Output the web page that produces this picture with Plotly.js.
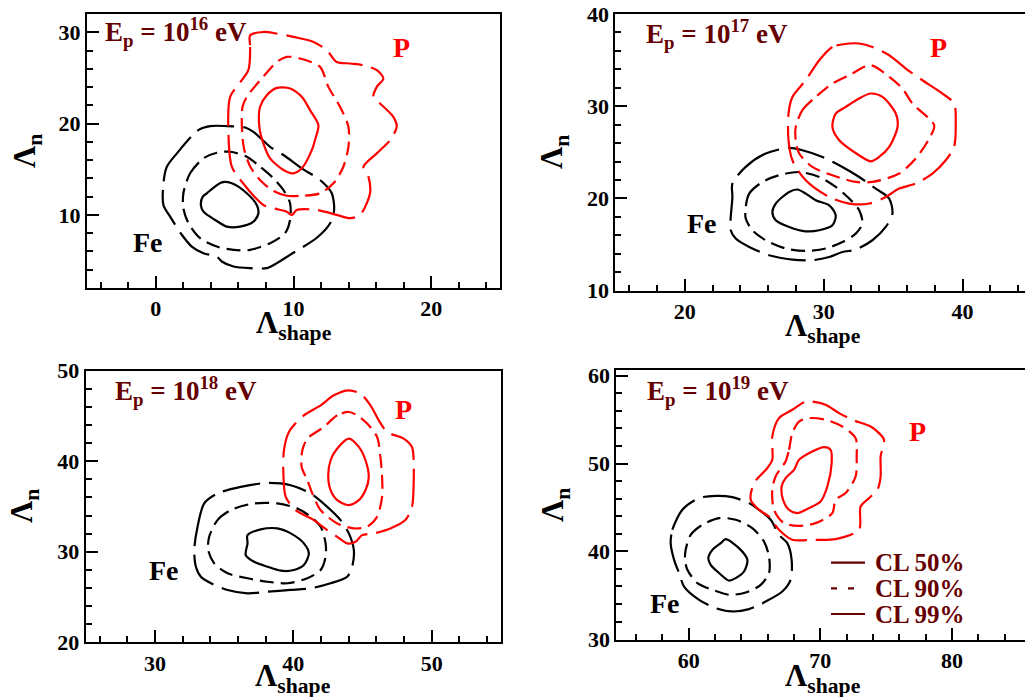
<!DOCTYPE html>
<html><head><meta charset="utf-8">
<script src="https://cdn.plot.ly/plotly-3.0.1.min.js"></script>
<style>html,body{margin:0;padding:0;overflow:hidden;background:#fff}#plot{width:1040px;height:697px}</style>
</head><body><div id="plot"></div>
<script>
// ---------------- DATA ----------------
const energies = ['16', '17', '18', '19'];
const clLevels = ['CL 50%', 'CL 90%', 'CL 99%'];

// Panel 1 : Ep = 1e16 eV
const p1_P50_x = [8.79, 9.75, 10.6, 11.2, 11.81, 11.6, 11.33, 10.6, 9.99, 9.27, 8.3, 7.81, 7.52, 7.57, 8.06, 8.79];
const p1_P50_y = [23.91, 23.85, 22.93, 21.48, 19.84, 18.4, 17.1, 15.1, 14.56, 14.92, 16.2, 17.84, 19.65, 21.84, 23.11, 23.91];
const p1_P90_x = [10.6, 9.51, 8.42, 7.57, 6.85, 6.4, 6.25, 6.3, 6.61, 7.79, 8.79, 9.51, 10.48, 11.93, 12.53, 13.38, 13.99, 13.99, 13.62, 12.9, 11.93, 10.6];
const p1_P90_y = [12.1, 12.1, 12.73, 13.83, 15.3, 17.3, 19.65, 21.84, 22.93, 25.11, 26.75, 27.3, 27.13, 26.21, 24.02, 21.84, 19.65, 17.46, 15.28, 13.46, 12.37, 12.1];
const p1_P99_x = [6.85, 6.85, 6.72, 5.4, 5.27, 5.52, 6.25, 7.81, 8.54, 9.51, 9.88, 10.24, 11.69, 13.14, 14.11, 14.84, 15.56, 15.44, 15.08, 16.05, 17.02, 17.5, 17.25, 16.29, 15.8, 16.05, 16.53, 16.05, 15.08, 14.11, 13.14, 12.42, 11.45, 9.99, 8.79, 7.81, 6.85];
const p1_P99_y = [29.67, 28.39, 25.85, 22.93, 19.29, 15.28, 13.64, 11.09, 10.73, 10.36, 10.0, 10.55, 10.55, 10.0, 9.64, 10.0, 12.37, 14.19, 15.28, 16.74, 18.2, 19.65, 20.74, 22.21, 22.93, 24.02, 24.94, 25.85, 26.39, 26.58, 26.75, 28.03, 28.94, 29.49, 29.86, 30.03, 29.67];
const p1_Fe50_x = [3.7, 4.79, 5.52, 6.61, 7.33, 7.45, 7.09, 6.12, 5.16, 4.31, 3.46, 3.27, 3.41, 3.7];
const p1_Fe50_y = [12.37, 13.57, 13.46, 12.37, 11.09, 10.18, 9.27, 8.72, 8.72, 9.45, 10.36, 11.09, 12.0, 12.37];
const p1_Fe90_x = [2.0, 2.49, 3.46, 4.43, 5.4, 6.61, 7.57, 8.54, 9.27, 9.75, 9.75, 9.39, 8.3, 6.85, 5.64, 4.43, 3.22, 2.37, 2.0, 2.0];
const p1_Fe90_y = [12.37, 14.56, 16.2, 16.81, 16.92, 16.37, 15.28, 14.01, 12.73, 11.28, 9.45, 8.0, 6.91, 6.17, 6.17, 6.54, 7.45, 9.09, 10.73, 12.37];
const p1_Fe99_x = [0.55, 0.8, 1.53, 3.09, 3.94, 5.16, 6.49, 7.09, 8.3, 9.27, 10.6, 11.93, 12.78, 12.95, 12.66, 11.69, 9.75, 8.79, 8.06, 6.85, 5.64, 4.79, 4.43, 3.46, 2.61, 1.9, 1.04, 0.55, 0.55];
const p1_Fe99_y = [13.46, 15.28, 16.74, 19.29, 19.73, 19.73, 19.58, 19.1, 17.46, 16.56, 15.1, 13.83, 12.37, 10.55, 9.09, 7.5, 5.63, 4.72, 4.17, 4.17, 4.35, 4.9, 5.44, 5.81, 6.54, 7.8, 9.81, 11.09, 13.46];

// Panel 2 : Ep = 1e17 eV
const p2_P50_x = [33.39, 34.24, 35.19, 35.32, 34.72, 33.99, 33.39, 32.55, 31.12, 30.63, 30.87, 31.59, 32.55, 33.39];
const p2_P50_y = [31.38, 31.01, 29.21, 27.75, 25.59, 24.5, 24.03, 24.69, 26.31, 27.75, 29.21, 29.93, 30.84, 31.38];
const p2_P90_x = [27.99, 28.47, 29.43, 30.63, 31.84, 33.39, 34.72, 35.67, 36.39, 37.96, 37.6, 36.63, 35.44, 33.51, 32.31, 30.63, 29.19, 28.24, 27.99, 27.99];
const p2_P90_y = [27.76, 29.57, 31.01, 32.46, 33.36, 34.45, 33.18, 31.92, 30.29, 27.94, 26.5, 24.33, 22.7, 21.79, 21.79, 22.52, 23.42, 24.87, 26.31, 27.76];
const p2_P99_x = [31.84, 30.63, 29.68, 28.71, 27.75, 27.47, 27.47, 27.75, 28.71, 30.4, 31.84, 33.28, 34.47, 35.44, 36.63, 37.83, 38.79, 39.39, 39.51, 39.39, 38.55, 37.11, 35.91, 34.72, 33.51, 32.56, 31.84];
const p2_P99_y = [36.8, 36.43, 34.99, 32.82, 31.01, 29.21, 26.31, 24.14, 21.97, 20.16, 19.45, 19.45, 20.16, 21.07, 21.62, 22.7, 24.14, 25.59, 28.12, 30.29, 31.38, 32.82, 34.09, 35.53, 36.43, 36.8, 36.8];
const p2_Fe50_x = [26.55, 27.52, 28.11, 28.71, 29.43, 30.4, 30.87, 30.63, 29.68, 28.71, 27.52, 26.55, 26.31, 26.55];
const p2_Fe50_y = [19.45, 20.71, 20.97, 20.53, 19.8, 19.26, 18.18, 17.09, 16.55, 16.44, 16.91, 17.64, 18.54, 19.45];
const p2_Fe90_x = [24.39, 24.64, 25.59, 26.8, 28.24, 29.68, 30.87, 31.84, 32.56, 32.79, 32.31, 31.35, 30.15, 28.71, 27.27, 25.83, 24.87, 24.39, 24.39];
const p2_Fe90_y = [19.08, 20.53, 21.79, 22.52, 22.87, 22.33, 21.25, 19.99, 18.72, 17.28, 16.19, 15.28, 14.57, 14.31, 14.57, 15.47, 16.55, 17.82, 19.08];
const p2_Fe99_x = [23.43, 24.39, 25.83, 27.52, 28.47, 29.91, 31.35, 32.56, 33.75, 34.72, 34.95, 34.47, 33.51, 32.31, 31.35, 30.4, 29.19, 27.75, 26.08, 24.64, 23.67, 23.31, 23.43, 23.43];
const p2_Fe99_y = [21.62, 23.42, 24.87, 25.48, 25.23, 24.5, 23.42, 22.33, 21.07, 19.99, 18.36, 16.91, 15.47, 14.46, 14.2, 13.66, 13.3, 13.37, 13.84, 14.74, 15.65, 16.55, 20.16, 21.62];

// Panel 3 : Ep = 1e18 eV
const p3_P50_x = [44.01, 44.73, 45.21, 45.45, 45.21, 44.73, 44.01, 43.17, 42.69, 42.52, 42.69, 43.17, 44.01];
const p3_P50_y = [42.5, 41.58, 40.11, 38.27, 36.8, 35.7, 35.15, 35.7, 36.8, 38.46, 40.11, 41.4, 42.5];
const p3_P90_x = [44.01, 43.17, 42.2, 41.01, 40.65, 40.6, 41.01, 41.37, 41.97, 43.17, 44.37, 45.33, 46.05, 46.41, 46.41, 46.29, 46.05, 45.33, 44.61, 44.01];
const p3_P90_y = [45.44, 45.07, 43.78, 42.5, 41.21, 39.37, 37.91, 36.44, 34.6, 33.13, 32.58, 32.76, 33.86, 36.06, 38.27, 40.47, 42.68, 44.16, 45.07, 45.44];
const p3_P99_x = [44.01, 42.93, 41.97, 40.76, 39.68, 39.32, 39.28, 39.45, 40.17, 41.48, 42.45, 43.17, 43.89, 44.49, 44.97, 45.81, 47.01, 48.09, 48.57, 48.69, 48.69, 48.57, 47.97, 46.77, 46.17, 45.57, 44.85, 44.01];
const p3_P99_y = [47.83, 47.28, 46.17, 45.07, 43.23, 41.21, 38.64, 36.06, 34.6, 33.5, 32.39, 31.65, 30.93, 31.1, 31.84, 32.03, 32.58, 33.5, 34.96, 37.54, 40.11, 41.58, 42.5, 43.23, 44.52, 46.17, 47.46, 47.83];
const p3_Fe50_x = [36.69, 37.64, 38.85, 39.81, 40.76, 41.12, 40.76, 40.04, 39.08, 38.13, 37.16, 36.56, 36.69, 36.69];
const p3_Fe50_y = [31.84, 32.47, 32.58, 32.03, 30.93, 29.82, 28.53, 27.98, 27.91, 28.35, 28.9, 29.64, 30.93, 31.84];
const p3_Fe90_x = [33.92, 34.52, 35.48, 37.16, 38.85, 40.29, 41.25, 41.97, 42.33, 42.33, 41.97, 41.01, 39.57, 38.13, 36.69, 35.25, 34.28, 33.85, 33.92];
const p3_Fe90_y = [31.65, 33.5, 34.6, 35.34, 35.34, 34.79, 33.86, 32.76, 30.93, 29.45, 27.98, 27.07, 26.52, 26.69, 27.07, 27.62, 28.72, 30.19, 31.65];
const p3_Fe99_x = [32.84, 33.08, 33.56, 34.52, 36.2, 38.13, 39.81, 41.25, 42.45, 43.41, 44.01, 44.37, 44.25, 43.89, 42.69, 41.25, 39.81, 38.13, 36.69, 35.25, 34.05, 33.32, 32.96, 32.84];
const p3_Fe99_y = [30.19, 32.76, 35.34, 36.44, 37.17, 37.61, 37.35, 36.44, 34.96, 33.5, 32.03, 30.19, 28.35, 27.24, 26.52, 25.96, 25.78, 25.59, 25.41, 25.78, 26.52, 27.24, 28.35, 30.19];

// Panel 4 : Ep = 1e19 eV
const p4_P50_x = [68.38, 69.39, 70.28, 70.78, 70.86, 70.53, 70.02, 69.14, 68.25, 67.62, 67.17, 67.06, 67.36, 68.0, 68.38];
const p4_P50_y = [50.42, 51.37, 51.87, 51.56, 50.05, 47.38, 45.67, 44.92, 44.35, 44.73, 45.87, 47.38, 48.34, 49.28, 50.42];
const p4_P90_x = [67.36, 67.62, 67.87, 68.38, 69.14, 70.4, 71.67, 72.68, 72.76, 72.68, 71.92, 71.16, 70.91, 69.64, 68.38, 67.24, 66.48, 66.35, 66.6, 67.11, 67.36];
const p4_P90_y = [50.23, 51.56, 53.46, 54.78, 55.17, 54.98, 54.21, 52.89, 50.8, 48.52, 46.63, 45.87, 44.35, 43.21, 42.9, 43.21, 44.73, 47.0, 48.52, 49.66, 50.23];
const p4_P99_x = [68.88, 67.87, 66.86, 66.35, 66.35, 65.97, 64.96, 64.71, 65.34, 66.1, 66.86, 67.87, 69.39, 71.16, 72.94, 73.06, 73.7, 74.33, 74.58, 74.58, 74.84, 74.46, 73.82, 72.43, 71.42, 70.4, 69.39, 68.88];
const p4_P99_y = [57.06, 56.12, 55.17, 53.08, 50.42, 49.48, 47.77, 45.87, 44.73, 43.96, 42.45, 41.31, 41.31, 41.39, 42.45, 45.1, 46.06, 47.0, 48.52, 50.8, 52.7, 53.46, 54.21, 54.98, 55.74, 56.69, 57.06, 57.06];
const p4_Fe50_x = [62.81, 63.82, 64.46, 64.2, 63.57, 63.06, 62.31, 61.67, 61.49, 61.8, 62.43, 62.81];
const p4_Fe50_y = [41.39, 40.36, 39.03, 37.7, 36.95, 36.67, 37.52, 38.46, 39.23, 40.17, 40.93, 41.39];
const p4_Fe90_x = [59.77, 60.15, 61.04, 62.31, 63.57, 64.83, 65.72, 66.1, 66.1, 65.47, 64.33, 63.06, 61.8, 60.66, 59.9, 59.72, 59.77];
const p4_Fe90_y = [40.17, 41.88, 43.02, 43.78, 43.59, 42.64, 41.12, 39.41, 37.52, 36.18, 35.31, 35.05, 35.62, 36.38, 37.9, 39.03, 40.17];
const p4_Fe99_x = [58.63, 58.76, 59.52, 60.79, 62.05, 63.32, 64.58, 65.34, 66.23, 66.86, 67.49, 67.82, 67.74, 67.11, 65.85, 64.58, 63.32, 62.05, 60.79, 59.65, 59.27, 58.89, 58.63];
const p4_Fe99_y = [40.93, 42.45, 44.73, 46.06, 46.32, 46.17, 45.49, 44.73, 43.59, 41.88, 40.93, 39.03, 36.75, 35.42, 34.28, 33.42, 33.15, 33.53, 34.48, 35.99, 37.52, 39.03, 40.93];

// axis ranges
const p1_xrange = [-5, 25],    p1_yrange = [2, 32];
const p2_xrange = [15, 45],    p2_yrange = [10, 40];
const p3_xrange = [25, 55],    p3_yrange = [20, 50];
const p4_xrange = [54.5, 86.08], p4_yrange = [29.9, 60.65];

// ---------------- STYLE / LAYOUT ----------------
const W = 1040, H = 697;
const FONT = 'Liberation Serif, Times New Roman, serif';
const DARK = '#660000';
const DASH = {50: 'solid', 90: '14px,7px', 99: '38px,9px'};
const traces = [];
function contour(ax, xs, ys, color, cl) {
  const s = ax > 1 ? String(ax) : '';
  traces.push({type: 'scatter', mode: 'lines', x: xs, y: ys, xaxis: 'x' + s, yaxis: 'y' + s,
    line: {color: color, width: 2.2, dash: DASH[cl], shape: 'spline', smoothing: 0.8},
    hoverinfo: 'skip', showlegend: false});
}
const RED = '#ff0000', BLK = '#000000';
contour(1, p1_Fe99_x, p1_Fe99_y, BLK, 99); contour(1, p1_Fe90_x, p1_Fe90_y, BLK, 90); contour(1, p1_Fe50_x, p1_Fe50_y, BLK, 50);
contour(1, p1_P99_x, p1_P99_y, RED, 99);   contour(1, p1_P90_x, p1_P90_y, RED, 90);   contour(1, p1_P50_x, p1_P50_y, RED, 50);
contour(2, p2_Fe99_x, p2_Fe99_y, BLK, 99); contour(2, p2_Fe90_x, p2_Fe90_y, BLK, 90); contour(2, p2_Fe50_x, p2_Fe50_y, BLK, 50);
contour(2, p2_P99_x, p2_P99_y, RED, 99);   contour(2, p2_P90_x, p2_P90_y, RED, 90);   contour(2, p2_P50_x, p2_P50_y, RED, 50);
contour(3, p3_Fe99_x, p3_Fe99_y, BLK, 99); contour(3, p3_Fe90_x, p3_Fe90_y, BLK, 90); contour(3, p3_Fe50_x, p3_Fe50_y, BLK, 50);
contour(3, p3_P99_x, p3_P99_y, RED, 99);   contour(3, p3_P90_x, p3_P90_y, RED, 90);   contour(3, p3_P50_x, p3_P50_y, RED, 50);
contour(4, p4_Fe99_x, p4_Fe99_y, BLK, 99); contour(4, p4_Fe90_x, p4_Fe90_y, BLK, 90); contour(4, p4_Fe50_x, p4_Fe50_y, BLK, 50);
contour(4, p4_P99_x, p4_P99_y, RED, 99);   contour(4, p4_P90_x, p4_P90_y, RED, 90);   contour(4, p4_P50_x, p4_P50_y, RED, 50);

const panels = [
  {px: [87, 500],      py: [14, 288],      xr: p1_xrange, yr: p1_yrange},
  {px: [615.3, 1032],  py: [14, 290.7],    xr: p2_xrange, yr: p2_yrange},
  {px: [85.7, 501],    py: [370.7, 642.3], xr: p3_xrange, yr: p3_yrange},
  {px: [616.3, 1032],  py: [370, 640],     xr: p4_xrange, yr: p4_yrange},
];
const fx = p => p / W, fy = p => 1 - p / H;
const tickfont = {family: FONT, size: 22, color: '#000', weight: 'bold'};
const layout = {width: W, height: H, margin: {l: 0, r: 0, t: 0, b: 0},
  paper_bgcolor: '#fff', plot_bgcolor: '#fff', showlegend: false,
  annotations: [], shapes: []};
panels.forEach((p, i) => {
  const s = i ? String(i + 1) : '';
  const common = {showgrid: false, zeroline: false, showline: true, mirror: true, linewidth: 2, linecolor: '#000',
    ticks: 'inside', ticklen: 12, tickwidth: 2, tickcolor: '#000', dtick: 10, tick0: 0, tickfont: tickfont,
    minor: {dtick: 2, tick0: 0, ticks: 'inside', ticklen: 6, tickwidth: 2, tickcolor: '#000', showgrid: false},
    fixedrange: true};
  layout['xaxis' + s] = Object.assign({}, common, {domain: [fx(p.px[0]), fx(p.px[1])], range: p.xr, anchor: 'y' + s});
  layout['yaxis' + s] = Object.assign({}, common, {domain: [fy(p.py[1]), fy(p.py[0])], range: p.yr, anchor: 'x' + s});
});

function ann(text, px, py, size, color, extra) {
  layout.annotations.push(Object.assign({text: text, x: fx(px), y: fy(py), xref: 'paper', yref: 'paper',
    showarrow: false, font: {family: FONT, size: size, color: color, weight: 'bold'}}, extra || {}));
}
// axis titles
const xTitle = [[293.5, 304], [823, 307], [293, 657], [823, 657]];
const yTitle = [[27, 151], [554, 152], [24, 506], [555, 505]];
xTitle.forEach(t => ann('Λ<sub>shape</sub>', t[0], t[1], 31, '#000', {xanchor: 'center', yanchor: 'top', borderpad: 0}));
yTitle.forEach(t => ann('Λ<sub>n</sub>', t[0], t[1], 31, '#000', {xanchor: 'center', yanchor: 'middle', textangle: -90}));
// energy labels
const eLab = [[103, 32], [643.7, 34], [113, 391], [645, 391]];
eLab.forEach((t, i) => ann('E<sub>p</sub> = 10<sup>' + energies[i] + '</sup> eV', t[0], t[1], 27, DARK, {xanchor: 'left', yanchor: 'middle'}));
// species labels
const pLab = [[401, 47.5], [938.5, 47.5], [403, 409], [917, 431]];
const feLab = [[148, 242.5], [702, 223], [164, 570], [665, 603]];
pLab.forEach(t => ann('P', t[0], t[1], 28, RED, {xanchor: 'center', yanchor: 'middle'}));
feLab.forEach(t => ann('Fe', t[0], t[1], 28, '#000', {xanchor: 'center', yanchor: 'middle'}));
// CL legend (panel 4)
const legY = [562.7, 588.3, 614];
const legDash = ['solid', '6px,11px', 'solid'];
legY.forEach((y, i) => {
  layout.shapes.push({type: 'line', xref: 'paper', yref: 'paper', x0: fx(831), x1: fx(865), y0: fy(y), y1: fy(y),
    line: {color: DARK, width: 2.2, dash: legDash[i]}});
  ann(clLevels[i], 873, y, 25, DARK, {xanchor: 'left', yanchor: 'middle'});
});

Plotly.newPlot('plot', traces, layout, {staticPlot: true, displayModeBar: false});
</script></body></html>
